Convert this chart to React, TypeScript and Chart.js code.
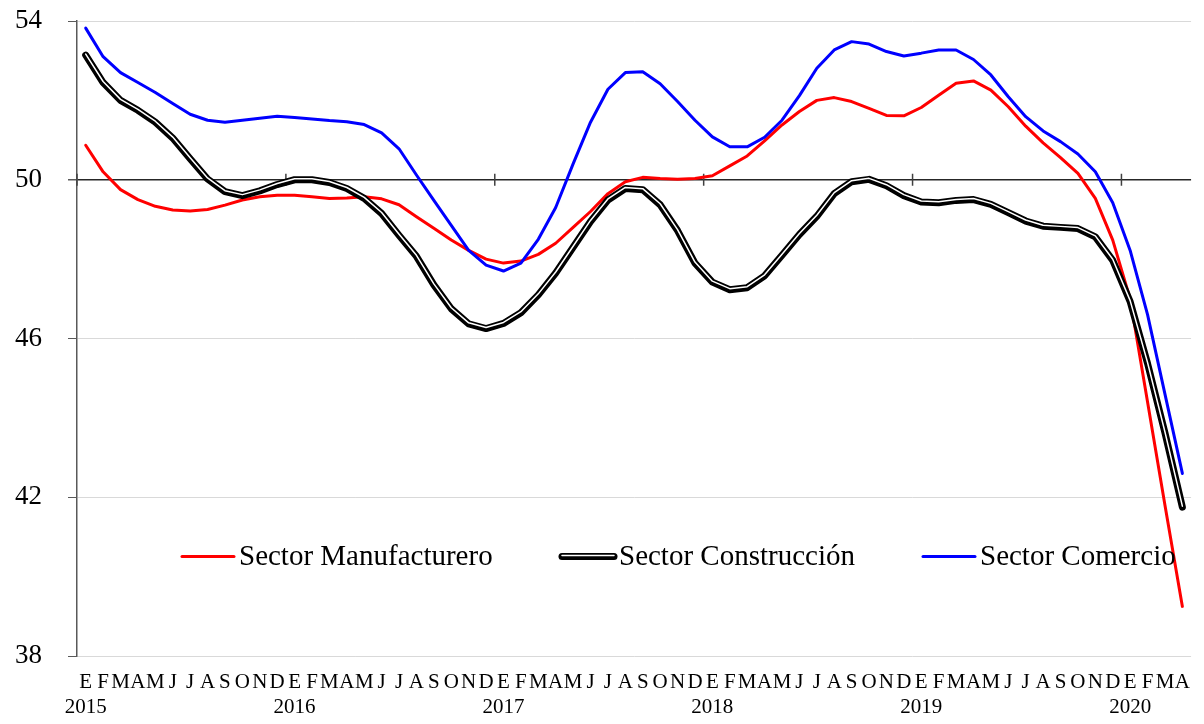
import React, { useEffect, useRef } from 'react';
import { Chart, registerables } from 'chart.js';

Chart.register(...registerables);

const FONT = '"Liberation Serif", "Times New Roman", serif';

const months = ['E', 'F', 'M', 'A', 'M', 'J', 'J', 'A', 'S', 'O', 'N', 'D'];
const years = ['2015', '2016', '2017', '2018', '2019', '2020'];
const monthsInLastYear = 4;

const seriesNames = ['Sector Manufacturero', 'Sector Construcción', 'Sector Comercio'];

const manufacturero = [
  50.87, 50.2, 49.75, 49.5, 49.33, 49.24, 49.21, 49.25, 49.36, 49.49, 49.57, 49.61,
  49.61, 49.57, 49.53, 49.54, 49.57, 49.52, 49.37, 49.07, 48.78, 48.48, 48.22, 48.0,
  47.9, 47.95, 48.12, 48.4, 48.8, 49.2, 49.65, 49.95, 50.06, 50.03, 50.01, 50.03,
  50.1, 50.35, 50.6, 50.98, 51.38, 51.72, 52.0, 52.07, 51.97, 51.8, 51.62, 51.61,
  51.82, 52.13, 52.43, 52.49, 52.26, 51.84, 51.35, 50.93, 50.56, 50.16, 49.53, 48.48,
  47.0, 44.4, 41.8, 39.25,
];

const construccion = [
  53.14, 52.45, 52.0, 51.75, 51.45, 51.05, 50.53, 50.02, 49.7, 49.6, 49.72, 49.88,
  50.0, 50.0, 49.93, 49.78, 49.53, 49.15, 48.6, 48.07, 47.35, 46.75, 46.37, 46.25,
  46.38, 46.65, 47.1, 47.65, 48.3, 48.95, 49.49, 49.78, 49.75, 49.37, 48.72, 47.9,
  47.42, 47.23, 47.28, 47.58, 48.1, 48.62, 49.08, 49.65, 49.95, 50.01, 49.85, 49.6,
  49.44, 49.42, 49.48, 49.5, 49.38, 49.17, 48.96, 48.83, 48.8, 48.77, 48.56, 47.97,
  46.93, 45.37, 43.62, 41.75,
];

const comercio = [
  53.82, 53.1, 52.7, 52.45, 52.2, 51.92, 51.65, 51.5, 51.45, 51.5, 51.55, 51.6,
  51.57, 51.53, 51.49, 51.46, 51.39, 51.18, 50.78, 50.12, 49.48, 48.85, 48.22, 47.85,
  47.7, 47.9, 48.5, 49.3, 50.4, 51.45, 52.28, 52.7, 52.72, 52.42, 51.97, 51.5,
  51.08, 50.83, 50.83, 51.07, 51.5, 52.12, 52.81, 53.27, 53.48, 53.42, 53.23, 53.12,
  53.19, 53.27, 53.27, 53.03, 52.64, 52.09, 51.59, 51.23, 50.96, 50.65, 50.2, 49.42,
  48.22, 46.6, 44.6, 42.6,
];

const yTicks = [38, 42, 46, 50, 54];
const yMin = 38;
const yMax = 54;
const axisCross = 50;

const labels: string[][] = [];
years.forEach((yr, yi) => {
  const n = yi === years.length - 1 ? monthsInLastYear : 12;
  for (let m = 0; m < n; m++) labels.push([months[m], m === 0 ? yr : '']);
});

const yearTickPlugin = {
  id: 'yearTicks',
  beforeDatasetsDraw(chart: any) {
    const x = chart.scales.x;
    const y = chart.scales.y;
    const ctx = chart.ctx;
    const half = (x.getPixelForValue(1) - x.getPixelForValue(0)) / 2;
    const yc = y.getPixelForValue(axisCross);
    ctx.save();
    ctx.strokeStyle = '#404040';
    ctx.lineWidth = 1.5;
    for (let i = 0; i < labels.length; i += 12) {
      const px = x.getPixelForValue(i) - half;
      ctx.beginPath();
      ctx.moveTo(px, yc - 6);
      ctx.lineTo(px, yc + 6);
      ctx.stroke();
    }
    ctx.restore();
  },
};

const innerOffsetPlugin = {
  id: 'innerOffset',
  beforeDatasetDraw(chart: any, args: any) {
    if (args.index === 2) {
      chart.ctx.save();
      chart.ctx.translate(0, -1);
    }
  },
  afterDatasetDraw(chart: any, args: any) {
    if (args.index === 2) chart.ctx.restore();
  },
};

const legendPlugin = {
  id: 'insideLegend',
  afterDraw(chart: any) {
    const ctx = chart.ctx;
    const items = [
      { name: seriesNames[0], x0: 182, color: '#ff0000', double: false },
      { name: seriesNames[1], x0: 562, color: '#000000', double: true },
      { name: seriesNames[2], x0: 923, color: '#0000ff', double: false },
    ];
    const sampleLen = 52;
    const lineY = 556.5;
    const baseY = 565;
    ctx.save();
    ctx.font = `29px ${FONT}`;
    ctx.textBaseline = 'alphabetic';
    ctx.textAlign = 'left';
    ctx.lineCap = 'round';
    items.forEach((it) => {
      ctx.beginPath();
      ctx.moveTo(it.x0, lineY);
      ctx.lineTo(it.x0 + sampleLen, lineY);
      ctx.strokeStyle = it.color;
      ctx.lineWidth = it.double ? 7 : 3;
      ctx.stroke();
      if (it.double) {
        ctx.beginPath();
        ctx.moveTo(it.x0, lineY - 1);
        ctx.lineTo(it.x0 + sampleLen, lineY - 1);
        ctx.strokeStyle = '#ffffff';
        ctx.lineWidth = 1.5;
        ctx.stroke();
      }
      ctx.fillStyle = '#000';
      ctx.fillText(it.name, it.x0 + sampleLen + 5, baseY);
    });
    ctx.restore();
  },
};

export default function App() {
  const ref = useRef<HTMLCanvasElement>(null);

  useEffect(() => {
    if (!ref.current) return;
    const lineCommon = {
      pointRadius: 0,
      pointHoverRadius: 0,
      tension: 0,
      borderJoinStyle: 'round' as const,
      borderCapStyle: 'round' as const,
      fill: false,
    };
    const chart = new Chart(ref.current, {
      type: 'line',
      data: {
        labels,
        datasets: [
          { ...lineCommon, label: seriesNames[0], data: manufacturero, borderColor: '#ff0000', borderWidth: 3, order: 3 },
          { ...lineCommon, label: seriesNames[1], data: construccion, borderColor: '#000000', borderWidth: 7, order: 2 },
          { ...lineCommon, label: seriesNames[1] + ' ', data: construccion, borderColor: '#ffffff', borderWidth: 1.5, order: 1 },
          { ...lineCommon, label: seriesNames[2], data: comercio, borderColor: '#0000ff', borderWidth: 3, order: 0 },
        ],
      },
      options: {
        animation: false,
        responsive: false,
        devicePixelRatio: 1,
        events: [],
        layout: { padding: { top: 21, right: 6, left: 0, bottom: 0 } },
        plugins: {
          legend: { display: false },
          tooltip: { enabled: false },
        },
        scales: {
          x: {
            type: 'category',
            offset: true,
            grid: { display: false, drawTicks: false },
            border: { display: false },
            ticks: {
              autoSkip: false,
              maxRotation: 0,
              minRotation: 0,
              padding: 14,
              color: '#000',
              font: { family: FONT, size: 21, lineHeight: 1.2 },
            },
            afterFit: (s: any) => {
              s.height = 68;
            },
          },
          y: {
            min: yMin,
            max: yMax,
            afterBuildTicks: (s: any) => {
              s.ticks = yTicks.map((v) => ({ value: v }));
            },
            ticks: {
              padding: 26,
              color: '#000',
              font: { family: FONT, size: 27 },
            },
            grid: {
              color: (c: any) => (c.tick && c.tick.value === axisCross ? '#262626' : '#d9d9d9'),
              lineWidth: (c: any) => (c.tick && c.tick.value === axisCross ? 1.5 : 1),
              tickColor: '#595959',
              tickLength: 9,
              drawTicks: true,
            },
            border: { display: true, color: '#595959', width: 1.5 },
            afterFit: (s: any) => {
              s.width = 77;
              s.paddingTop = 0;
              s.paddingBottom = 0;
            },
          },
        },
      },
      plugins: [yearTickPlugin, innerOffsetPlugin, legendPlugin],
    });
    return () => chart.destroy();
  }, []);

  return (
    <div style={{ position: 'fixed', left: 0, top: 0, width: 1204, height: 724, background: '#fff' }}>
      <canvas ref={ref} width={1204} height={724} style={{ display: 'block', width: 1204, height: 724 }} />
    </div>
  );
}
